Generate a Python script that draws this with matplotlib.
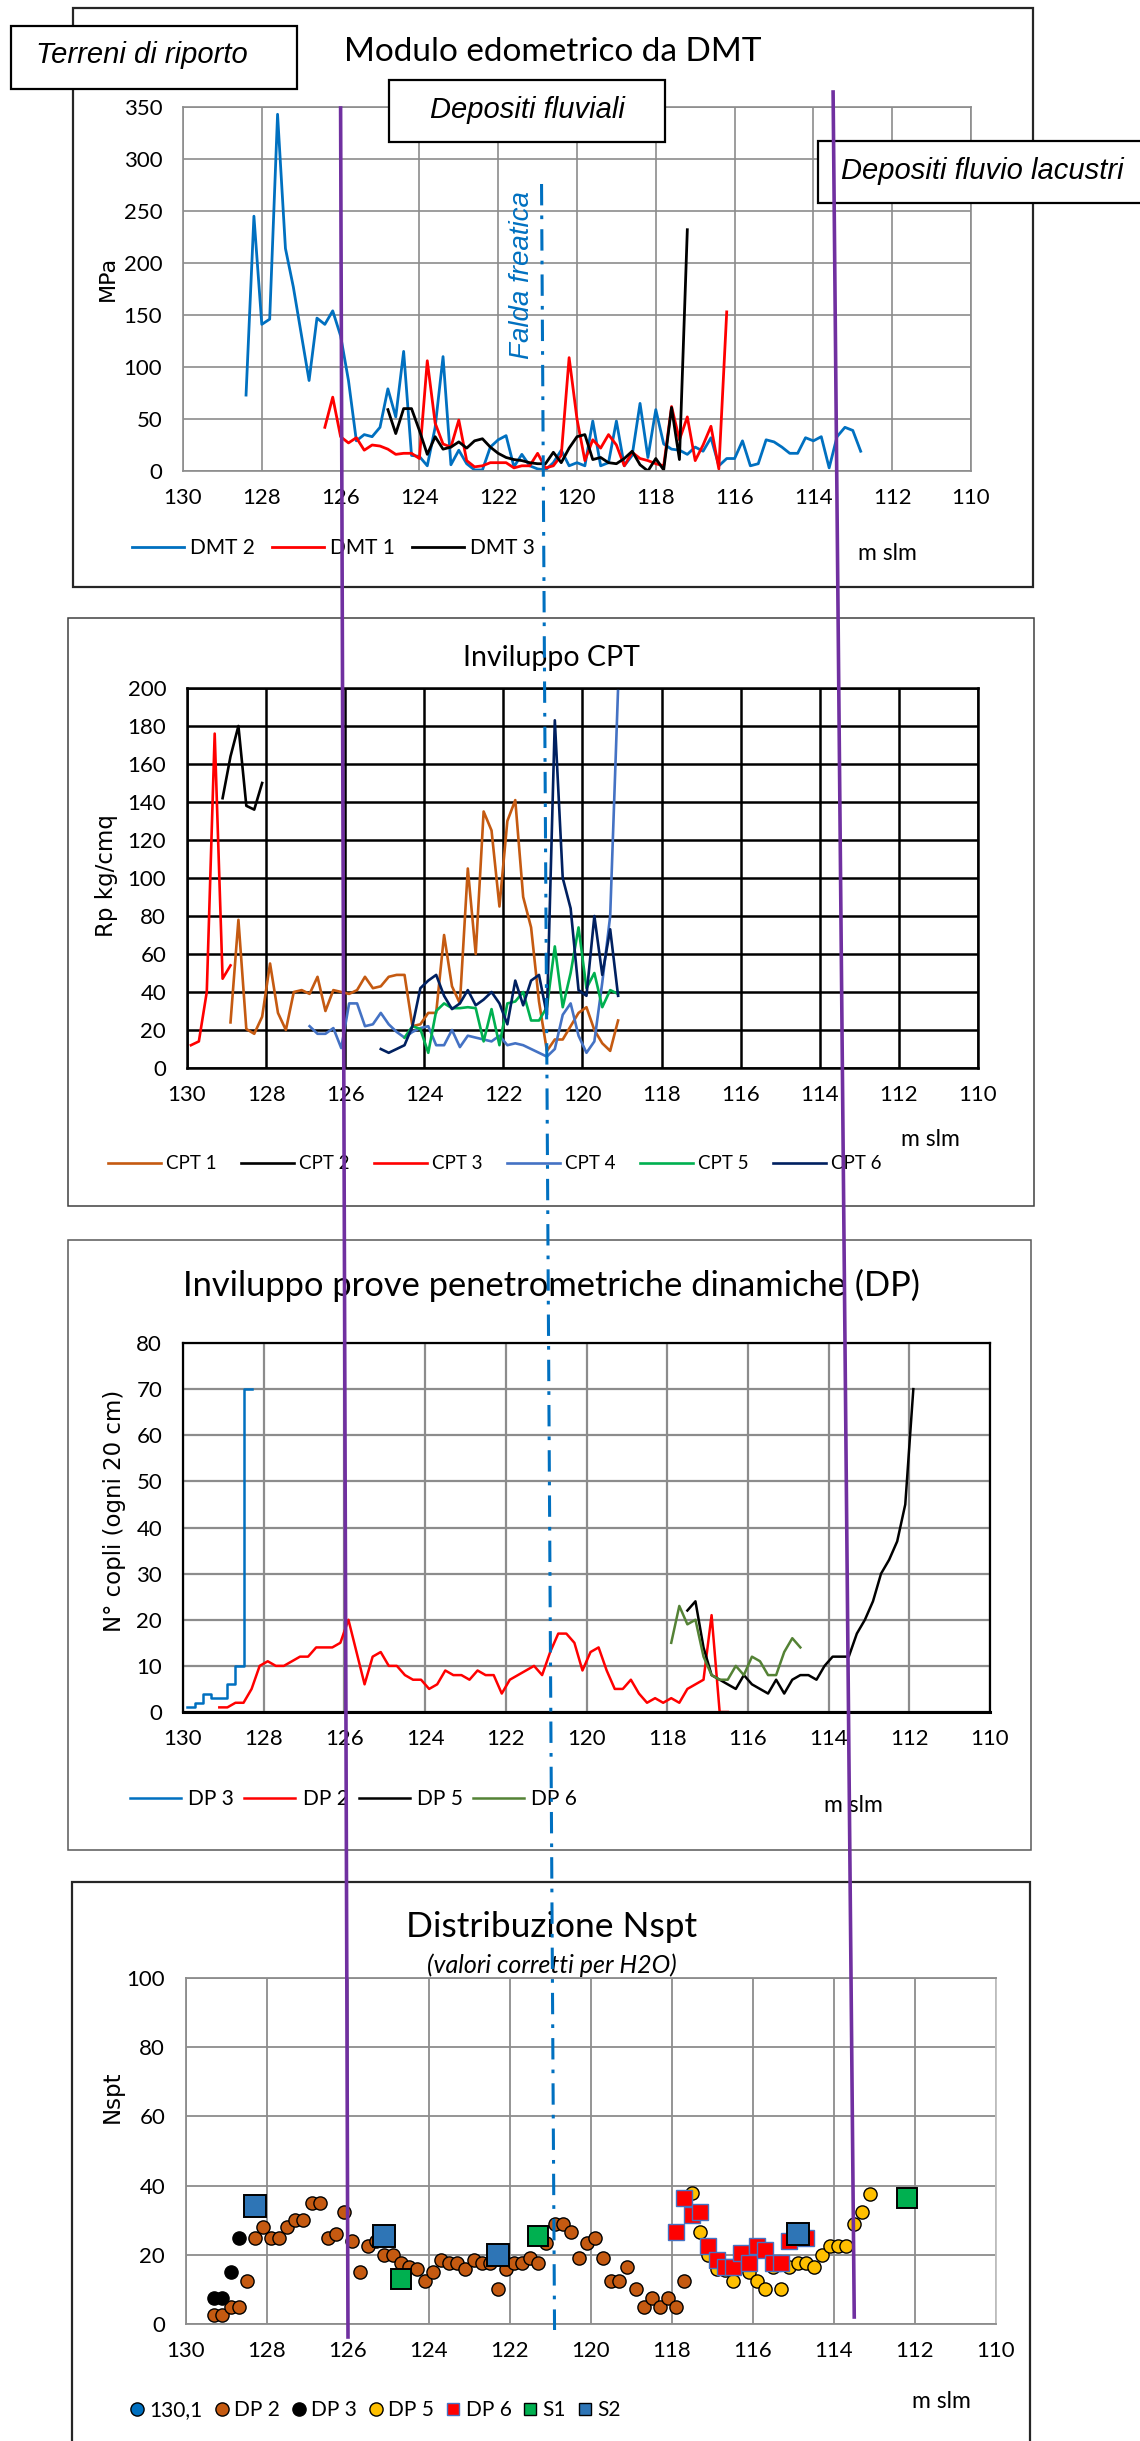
import numpy as np
import matplotlib
matplotlib.use("Agg")
import matplotlib.pyplot as plt
from matplotlib.patches import Rectangle
from matplotlib.lines import Line2D

plt.rcParams["font.family"] = ["Lato", "DejaVu Sans"]

# ---------------- data (m slm / values) ----------------
# Modulo edometrico da DMT (MPa)
dmt2_x = [128.4, 128.2, 128.0, 127.8, 127.6, 127.4, 127.2, 127.0, 126.8, 126.6,
          126.4, 126.2, 126.0, 125.8, 125.6, 125.4, 125.2, 125.0, 124.8, 124.6,
          124.4, 124.2, 124.0, 123.8, 123.6, 123.4, 123.2, 123.0, 122.8, 122.6,
          122.4, 122.2, 122.0, 121.8, 121.6, 121.4, 121.2, 121.0, 120.8, 120.6,
          120.4, 120.2, 120.0, 119.8, 119.6, 119.4, 119.2, 119.0, 118.8, 118.6,
          118.4, 118.2, 118.0, 117.8, 117.6, 117.4, 117.2, 117.0, 116.8, 116.6,
          116.4, 116.2, 116.0, 115.8, 115.6, 115.4, 115.2, 115.0, 114.8, 114.6,
          114.4, 114.2, 114.0, 113.8, 113.6, 113.4, 113.2, 113.0, 112.8]
dmt2_y = [73, 245, 141, 146, 343, 214, 177, 132, 87, 147,
          141, 154, 130, 87, 29, 35, 33, 42, 79, 52,
          115, 15, 14, 5, 42, 110, 6, 20, 7, 1,
          1, 23, 30, 34, 4, 16, 5, 2, 1, 8,
          20, 5, 8, 5, 48, 5, 8, 48, 5, 15,
          65, 13, 59, 26, 21, 20, 16, 23, 19, 32,
          5, 12, 12, 29, 5, 7, 30, 28, 23, 17,
          17, 32, 29, 33, 3, 33, 42, 39, 19]
dmt1_x = [126.4, 126.2, 126.0, 125.8, 125.6, 125.4, 125.2, 125.0, 124.8, 124.6,
          124.4, 124.2, 124.0, 123.8, 123.6, 123.4, 123.2, 123.0, 122.8, 122.6,
          122.4, 122.2, 122.0, 121.8, 121.6, 121.4, 121.2, 121.0, 120.8, 120.6,
          120.4, 120.2, 120.0, 119.8, 119.6, 119.4, 119.2, 119.0, 118.8, 118.6,
          118.4, 118.2, 118.0, 117.8, 117.6, 117.4, 117.2, 117.0, 116.8, 116.6,
          116.4, 116.2]
dmt1_y = [42, 71, 33, 27, 32, 20, 25, 24, 21, 16,
          17, 17, 12, 106, 46, 26, 23, 49, 10, 4,
          5, 8, 8, 8, 3, 5, 5, 17, 3, 5,
          15, 109, 50, 10, 30, 22, 35, 25, 5, 18,
          12, 10, 7, 5, 62, 30, 52, 10, 25, 43,
          2, 153]
dmt3_x = [124.8, 124.6, 124.4, 124.2, 124.0, 123.8, 123.6, 123.4, 123.2, 123.0,
          122.8, 122.6, 122.4, 122.2, 122.0, 121.8, 121.6, 121.4, 121.2, 121.0,
          120.8, 120.6, 120.4, 120.2, 120.0, 119.8, 119.6, 119.4, 119.2, 119.0,
          118.8, 118.6, 118.4, 118.2, 118.0, 117.8, 117.6, 117.4, 117.2]
dmt3_y = [59, 36, 60, 60, 39, 16, 33, 21, 23, 28,
          22, 29, 31, 23, 17, 13, 11, 10, 8, 7,
          7, 18, 8, 22, 33, 35, 11, 13, 8, 7,
          12, 19, 6, 0, 12, 1, 61, 11, 232]

# Inviluppo CPT (Rp kg/cmq)
cpt1_x = [128.9, 128.7, 128.5, 128.3, 128.1, 127.9, 127.7, 127.5, 127.3, 127.1,
          126.9, 126.7, 126.5, 126.3, 126.1, 125.9, 125.7, 125.5, 125.3, 125.1,
          124.9, 124.7, 124.5, 124.3, 124.1, 123.9, 123.7, 123.5, 123.3, 123.1,
          122.9, 122.7, 122.5, 122.3, 122.1, 121.9, 121.7, 121.5, 121.3, 121.1,
          120.9, 120.7, 120.5, 120.3, 120.1, 119.9, 119.7, 119.5, 119.3, 119.1]
cpt1_y = [24, 78, 20.5, 18, 27, 55, 29, 20, 40, 41,
          39, 48, 30, 41, 40, 39, 41, 48, 42, 43,
          48, 49, 49, 22, 23, 29, 29, 70, 43, 34,
          105, 60, 135, 125, 85, 130, 141, 90, 74, 35,
          9, 15, 15, 22, 29, 32, 20, 13, 9, 25]
cpt2_x = [129.1, 128.9, 128.7, 128.5, 128.3, 128.1]
cpt2_y = [142, 164, 180, 138, 136, 150]
cpt3_x = [129.9, 129.7, 129.5, 129.3, 129.1, 128.9]
cpt3_y = [12, 14, 40, 176, 47, 54]
cpt4_x = [126.9, 126.7, 126.5, 126.3, 126.1, 125.9, 125.7, 125.5, 125.3, 125.1,
          124.9, 124.7, 124.5, 124.3, 124.1, 123.9, 123.7, 123.5, 123.3, 123.1,
          122.9, 122.7, 122.5, 122.3, 122.1, 121.9, 121.7, 121.5, 121.3, 121.1,
          120.9, 120.7, 120.5, 120.3, 120.1, 119.9, 119.7, 119.5, 119.3, 119.1]
cpt4_y = [22, 18, 18, 21, 10.5, 34, 34, 22, 23, 29,
          23, 19, 16, 19, 21, 22, 12, 12, 20, 11,
          17, 16, 15, 14, 17, 12, 13, 12, 10, 8,
          6, 10, 28, 34, 17, 8, 14, 45, 80, 200]
cpt5_x = [124.5, 124.3, 124.1, 123.9, 123.7, 123.5, 123.3, 123.1, 122.9, 122.7,
          122.5, 122.3, 122.1, 121.9, 121.7, 121.5, 121.3, 121.1, 120.9, 120.7,
          120.5, 120.3, 120.1, 119.9, 119.7, 119.5, 119.3, 119.1]
cpt5_y = [16, 22, 20.5, 8, 30, 34, 31.5, 31.5, 32, 31.5,
          14, 31, 12, 34, 35, 40, 25, 25, 32, 64,
          32, 50, 74, 42, 50, 32, 41, 39]
cpt6_x = [125.1, 124.9, 124.7, 124.5, 124.3, 124.1, 123.9, 123.7, 123.5, 123.3,
          123.1, 122.9, 122.7, 122.5, 122.3, 122.1, 121.9, 121.7, 121.5, 121.3,
          121.1, 120.9, 120.7, 120.5, 120.3, 120.1, 119.9, 119.7, 119.5, 119.3,
          119.1]
cpt6_y = [10, 8, 10, 12, 22, 42, 46, 49, 38, 31,
          34, 41, 33, 36, 40, 34, 23, 46, 33, 46,
          49, 28, 183, 100, 84, 41, 38, 80, 49, 73,
          38]

# Inviluppo prove penetrometriche dinamiche (N colpi / 20 cm)
dp3_x = [129.9, 129.7, 129.5, 129.3, 129.1, 128.9, 128.7, 128.5, 128.3]
dp3_y = [1, 2, 4, 3, 3, 6, 10, 70, 70]
dp2_x = [129.1, 128.9, 128.7, 128.5, 128.3, 128.1, 127.9, 127.7, 127.5, 127.3,
         127.1, 126.9, 126.7, 126.5, 126.3, 126.1, 125.9, 125.7, 125.5, 125.3,
         125.1, 124.9, 124.7, 124.5, 124.3, 124.1, 123.9, 123.7, 123.5, 123.3,
         123.1, 122.9, 122.7, 122.5, 122.3, 122.1, 121.9, 121.7, 121.5, 121.3,
         121.1, 120.9, 120.7, 120.5, 120.3, 120.1, 119.9, 119.7, 119.5, 119.3,
         119.1, 118.9, 118.7, 118.5, 118.3, 118.1, 117.9, 117.7, 117.5, 117.3,
         117.1, 116.9, 116.7, 116.5]
dp2_y = [1, 1, 2, 2, 5, 10, 11, 10, 10, 11,
         12, 12, 14, 14, 14, 15, 20, 13, 6, 12,
         13, 10, 10, 8, 7, 7, 5, 6, 9, 8,
         8, 7, 9, 8, 8, 4, 7, 8, 9, 10,
         8, 13, 17, 17, 15, 9, 13, 14, 9, 5,
         5, 7, 4, 2, 3, 2, 3, 2, 5, 6,
         7, 21, 0, 0]
dp5_x = [117.5, 117.3, 117.1, 116.9, 116.7, 116.5, 116.3, 116.1, 115.9, 115.7,
         115.5, 115.3, 115.1, 114.9, 114.7, 114.5, 114.3, 114.1, 113.9, 113.7,
         113.5, 113.3, 113.1, 112.9, 112.7, 112.5, 112.3, 112.1, 111.9]
dp5_y = [22, 24, 14, 8, 7, 6, 5, 8, 6, 5,
         4, 7, 4, 7, 8, 8, 7, 10, 12, 12,
         12, 17, 20, 24, 30, 33, 37, 45, 70]
dp6_x = [117.9, 117.7, 117.5, 117.3, 117.1, 116.9, 116.7, 116.5, 116.3, 116.1,
         115.9, 115.7, 115.5, 115.3, 115.1, 114.9, 114.7]
dp6_y = [15, 23, 19, 20, 12, 8, 7, 7, 10, 8, 12, 11, 8, 8, 13, 16, 14]

# Distribuzione Nspt
n_dp2_x = [129.3, 129.1, 128.9, 128.7, 128.5, 128.3, 128.1, 127.9, 127.7, 127.5,
           127.3, 127.1, 126.9, 126.7, 126.5, 126.3, 126.1, 125.9, 125.7, 125.5,
           125.3, 125.1, 124.9, 124.7, 124.5, 124.3, 124.1, 123.9, 123.7, 123.5,
           123.3, 123.1, 122.9, 122.7, 122.5, 122.3, 122.1, 121.9, 121.7, 121.5,
           121.3, 121.1, 120.9, 120.7, 120.5, 120.3, 120.1, 119.9, 119.7, 119.5,
           119.3, 119.1, 118.9, 118.7, 118.5, 118.3, 118.1, 117.9, 117.7]
n_dp2_y = [2.5, 2.5, 5, 5, 12.5, 25, 28, 25, 25, 28,
           30, 30, 35, 35, 25, 26, 32.5, 24, 15, 22.5,
           24, 20, 20, 17.5, 16.5, 16, 12.5, 15, 18.5, 17.5,
           17.5, 16, 18.5, 17.5, 17.5, 10, 16, 17.5, 17.5, 19,
           17.5, 23.5, 29, 29, 26.5, 19, 23.5, 25, 19, 12.5,
           12.5, 16.5, 10, 5, 7.5, 5, 7.5, 5, 12.5]
n_dp3_x = [129.3, 129.1, 128.9, 128.7]
n_dp3_y = [7.5, 7.5, 15, 25]
n_dp5_x = [117.5, 117.3, 117.1, 116.9, 116.7, 116.5, 116.3, 116.1, 115.9, 115.7,
           115.5, 115.3, 115.1, 114.9, 114.7, 114.5, 114.3, 114.1, 113.9, 113.7,
           113.5, 113.3, 113.1]
n_dp5_y = [38, 26.5, 20, 16, 15.5, 12.5, 17.5, 15, 12.5, 10,
           16.5, 10, 16.5, 17.5, 17.5, 16.5, 20, 22.5, 22.5, 22.5,
           29, 32.5, 37.5]
n_dp6_x = [117.9, 117.7, 117.5, 117.3, 117.1, 116.9, 116.7, 116.5, 116.3, 116.1,
           115.9, 115.7, 115.5, 115.3, 115.1, 114.9, 114.7]
n_dp6_y = [26.5, 36.5, 31.5, 32.5, 22.5, 18.5, 16.5, 16.5, 20.5, 17.5,
           22.5, 21.5, 17.5, 17.5, 24, 26.5, 25]
s1_x = [124.7, 121.3, 112.2]
s1_y = [13, 25.5, 36.5]
s2_x = [128.3, 125.1, 122.3, 114.9]
s2_y = [34, 25.5, 20, 26]

# limiti stratigrafici e falda (m slm)
lim_riporto = 126.0
lim_lacustri = 113.5
falda = 120.9

# ---------------- figure ----------------
W, H = 1140, 2441
fig = plt.figure(figsize=(W / 100, H / 100), dpi=100)


def px_ax(l, t, r, b):
    return fig.add_axes([l / W, 1 - b / H, (r - l) / W, (b - t) / H])


def setup(ax, ymax, ystep, gc, gw, sc, sw):
    ax.set_xlim(130, 110)
    ax.set_ylim(0, ymax)
    ax.set_xticks(np.arange(130, 109, -2))
    ax.set_yticks(np.arange(0, ymax + 1, ystep))
    ax.grid(True, color=gc, linewidth=gw)
    ax.set_axisbelow(True)
    for s in ax.spines.values():
        s.set_color(sc)
        s.set_linewidth(sw)
    ax.tick_params(length=0, labelsize=16)
    ax.tick_params(axis="x", pad=12)
    ax.tick_params(axis="y", pad=15)


def ftext(x, y, s, **kw):
    kw.setdefault("ha", "center")
    kw.setdefault("va", "center")
    return fig.text(x / W, 1 - y / H, s, **kw)


def frame(l, t, r, b, ec, lw, fc="none", z=1):
    fig.add_artist(Rectangle((l / W, 1 - b / H), (r - l) / W, (b - t) / H,
                             transform=fig.transFigure, fc=fc, ec=ec, lw=lw, zorder=z))


def legend(handles, x, y, fs, **kw):
    fig.legend(handles=handles, loc="center left", bbox_to_anchor=(x / W, 1 - y / H),
               ncol=len(handles), frameon=False, fontsize=fs, borderpad=0,
               borderaxespad=0, **kw)


# frames
frame(73, 8, 1033, 587, "#262626", 1.6)
frame(68, 618, 1034, 1206, "#404040", 1.1)
frame(68, 1240, 1031, 1850, "#595959", 1.1)
frame(72, 1882, 1030, 2470, "#262626", 1.6)

# ---- panel 1: DMT
ax1 = px_ax(183, 107, 971, 471)
setup(ax1, 350, 50, "#8c8c8c", 1.2, "#8c8c8c", 1.2)
l1, = ax1.plot(dmt2_x, dmt2_y, color="#0070C0", lw=2.0, label="DMT 2")
l2, = ax1.plot(dmt1_x, dmt1_y, color="#FF0000", lw=2.0, label="DMT 1")
l3, = ax1.plot(dmt3_x, dmt3_y, color="#000000", lw=2.0, label="DMT 3")
ftext(553, 52, "Modulo edometrico da DMT", fontsize=24)
ftext(108, 278, "MPa", rotation=90, fontsize=16, family="DejaVu Sans")
ftext(887, 553, "m slm", fontsize=16.5)
legend([l1, l2, l3], 132, 548, 15, handlelength=2.5, handletextpad=0.3, columnspacing=0.8)

# ---- panel 2: CPT
ax2 = px_ax(187, 688, 978, 1068)
setup(ax2, 200, 20, "#000000", 1.8, "#000000", 1.8)
c1, = ax2.plot(cpt1_x, cpt1_y, color="#C55A11", lw=1.9, label="CPT 1")
c2, = ax2.plot(cpt2_x, cpt2_y, color="#000000", lw=1.9, label="CPT 2")
c3, = ax2.plot(cpt3_x, cpt3_y, color="#FF0000", lw=1.9, label="CPT 3")
c4, = ax2.plot(cpt4_x, cpt4_y, color="#4472C4", lw=1.9, label="CPT 4")
c5, = ax2.plot(cpt5_x, cpt5_y, color="#00B050", lw=1.9, label="CPT 5")
c6, = ax2.plot(cpt6_x, cpt6_y, color="#002060", lw=1.9, label="CPT 6")
ftext(551, 658, "Inviluppo CPT", fontsize=20.5)
ftext(106, 876, "Rp kg/cmq", rotation=90, fontsize=16.5, family="DejaVu Sans")
ftext(930, 1139, "m slm", fontsize=16.5)
legend([c1, c2, c3, c4, c5, c6], 108, 1164, 13.5, handlelength=2.8,
       handletextpad=0.3, columnspacing=1.3)

# ---- panel 3: DP
ax3 = px_ax(183, 1343, 990, 1712)
setup(ax3, 80, 10, "#8c8c8c", 1.6, "#000000", 1.6)
ax3.spines["bottom"].set_linewidth(2.2)
d3, = ax3.plot(dp3_x, dp3_y, color="#0070C0", lw=1.8, drawstyle="steps-post", label="DP 3")
d2, = ax3.plot(dp2_x, dp2_y, color="#FF0000", lw=1.8, label="DP 2")
d5, = ax3.plot(dp5_x, dp5_y, color="#000000", lw=1.8, label="DP 5")
d6, = ax3.plot(dp6_x, dp6_y, color="#548235", lw=1.8, label="DP 6")
ftext(551, 1285, "Inviluppo prove penetrometriche dinamiche (DP)", fontsize=24.8)
ftext(114, 1511, "N° copli (ogni 20 cm)", rotation=90, fontsize=16.5, family="DejaVu Sans")
ftext(853, 1805, "m slm", fontsize=16.5)
legend([d3, d2, d5, d6], 130, 1799, 15, handlelength=2.45, handletextpad=0.34,
       columnspacing=0.5)

# ---- panel 4: Nspt
ax4 = px_ax(186, 1978, 996, 2324)
setup(ax4, 100, 20, "#8c8c8c", 1.3, "#8c8c8c", 1.3)
ax4.spines["right"].set_color("#c0c0c0")
ax4.plot(n_dp2_x, n_dp2_y, ls="none", marker="o", ms=9.5, mfc="#C55A11", mec="black", mew=1.0)
ax4.plot(n_dp3_x, n_dp3_y, ls="none", marker="o", ms=9.5, mfc="black", mec="black", mew=1.0)
ax4.plot(n_dp5_x, n_dp5_y, ls="none", marker="o", ms=9.5, mfc="#FFC000", mec="black", mew=1.0)
ax4.plot(n_dp6_x, n_dp6_y, ls="none", marker="s", ms=12, mfc="#FF0000", mec="#4472C4", mew=1.0)
ax4.plot(s1_x, s1_y, ls="none", marker="s", ms=15, mfc="#00B050", mec="black", mew=1.4)
ax4.plot(s2_x, s2_y, ls="none", marker="s", ms=15.5, mfc="#2E75B6", mec="black", mew=1.4)
ftext(552, 1927, "Distribuzione Nspt", fontsize=25.5)
ftext(552, 1965, "(valori corretti per H2O)", fontsize=18, style="italic")
ftext(112, 2097, "Nspt", rotation=90, fontsize=16.5, family="DejaVu Sans")
ftext(941, 2401, "m slm", fontsize=16.5)


def mk(marker, fc, ec, label, ms=9.5):
    return Line2D([], [], ls="none", marker=marker, ms=ms, mfc=fc, mec=ec, mew=1.0, label=label)


legend([mk("o", "#0070C0", "black", "130,1"), mk("o", "#C55A11", "black", "DP 2"),
        mk("o", "black", "black", "DP 3"), mk("o", "#FFC000", "black", "DP 5"),
        mk("s", "#FF0000", "#4472C4", "DP 6", 8.5), mk("s", "#00B050", "black", "S1", 8.5),
        mk("s", "#2E75B6", "black", "S2", 8.5)],
       131, 2410, 15, handlelength=0.6, handletextpad=0.3, columnspacing=0.6)

# ---- label boxes
box_font = dict(family="Liberation Sans", style="italic", fontsize=21, zorder=4)
frame(11, 26, 297, 89, "black", 1.6, fc="white", z=3)
ftext(142, 55, "Terreni di riporto", **box_font)
frame(389, 80, 665, 142, "black", 1.6, fc="white", z=3)
ftext(527, 110, "Depositi fluviali", **box_font)
frame(818, 141, 1150, 203, "black", 1.6, fc="white", z=3)
ftext(982, 171, "Depositi fluvio lacustri", **box_font)


# ---- boundaries drawn across all panels
def fig_x(ax, xv):
    return ax.transData.transform((xv, 0))[0] / W


def vline(xv, y_top, y_bot, **kw):
    fig.add_artist(Line2D([fig_x(ax1, xv), fig_x(ax4, xv)], [1 - y_top / H, 1 - y_bot / H],
                          transform=fig.transFigure, zorder=6, **kw))


vline(lim_riporto, 108, 2337, color="#7030A0", lw=2.6)
vline(lim_lacustri, 92, 2317, color="#7030A0", lw=2.6)
vline(falda, 184, 2330, color="#0070C0", lw=2.2, linestyle=(0, (7, 3.3, 1.2, 3.3)))
ftext(522, 275, "Falda freatica", rotation=90, color="#0070C0", fontsize=20,
      family="Liberation Sans", style="italic", zorder=4)

fig.savefig("out.png", dpi=100)
